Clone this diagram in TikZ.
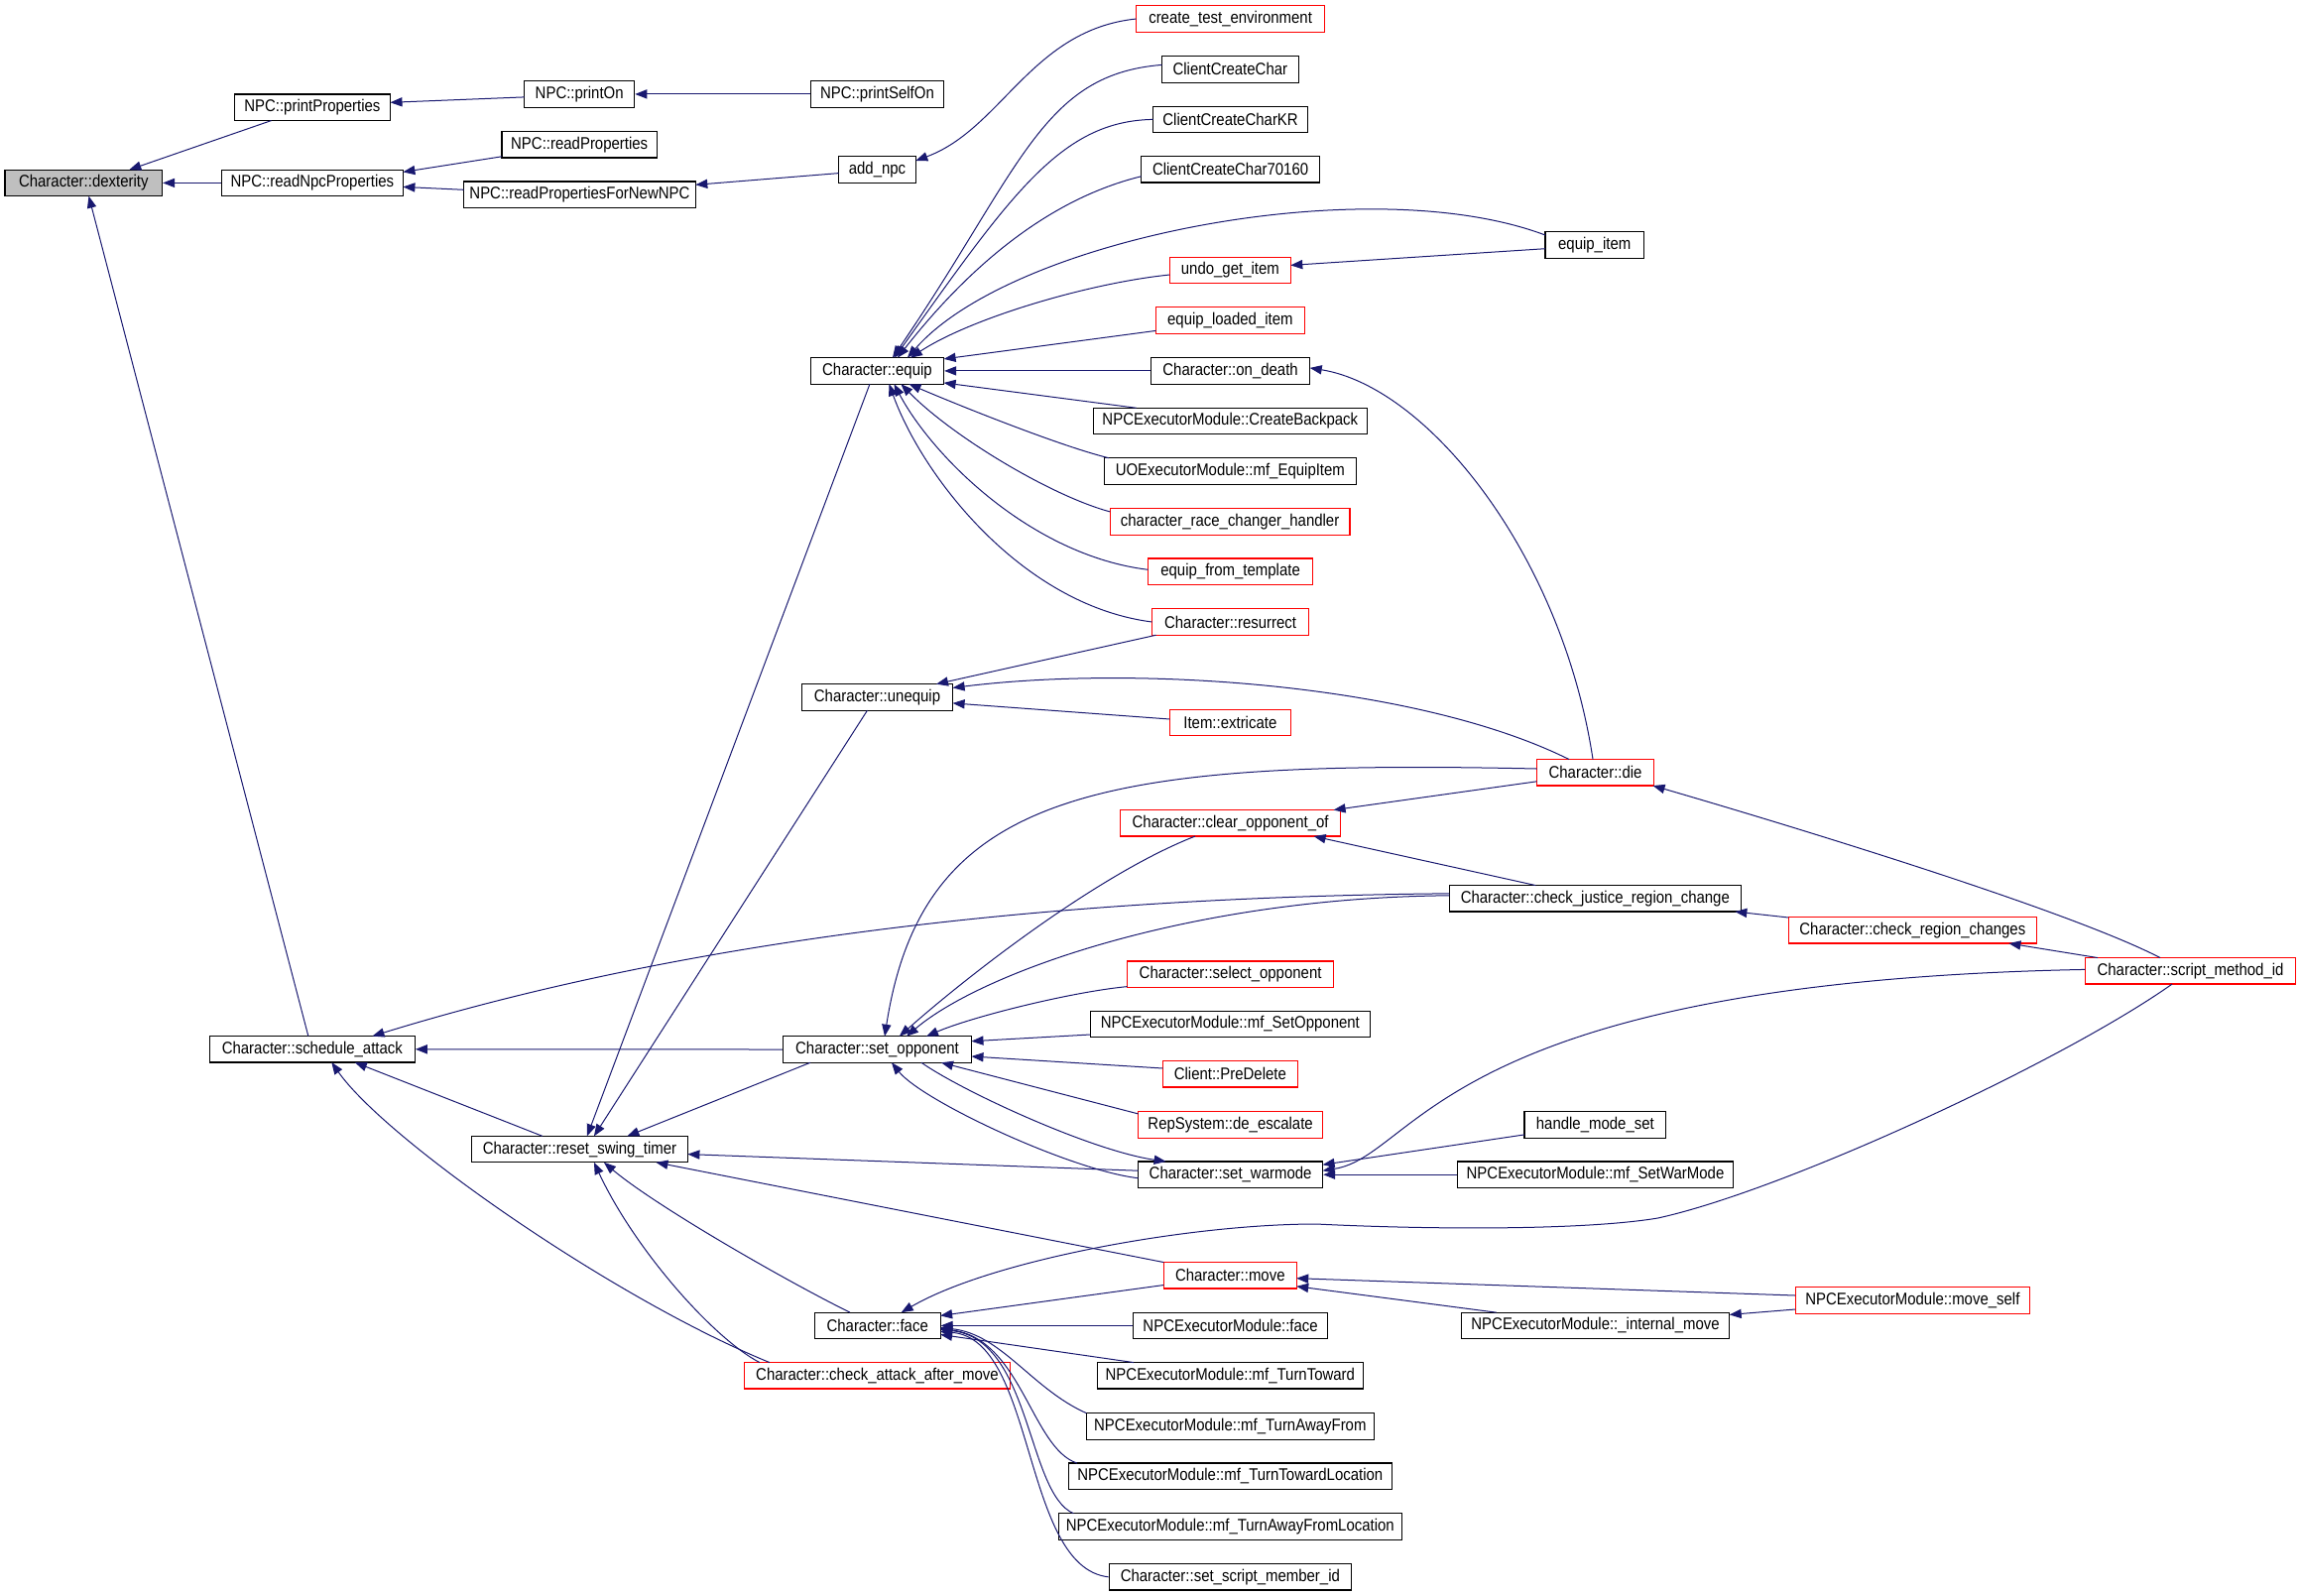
\documentclass[tikz,border=0pt]{standalone}
\usepackage{fontspec}
\setmainfont{Liberation Sans}[FakeStretch=0.88]
\usetikzlibrary{calc,arrows.meta}
\definecolor{edgeblue}{RGB}{25,25,112}
\begin{document}
\begin{tikzpicture}[x=0.5pt,y=-0.5pt,
  box/.style={draw=black,line width=0.6pt,fill=white,minimum height=13.25pt,inner sep=0pt,font=\fontsize{8.5}{10}\selectfont,text=black},
  rbox/.style={box,draw=red},
  gbox/.style={box,fill=black!25},
  ed/.style={draw=edgeblue,line width=0.5pt,{Triangle[length=6pt,width=4.6pt]}-}]
\useasboundingbox[fill=white] (0,0) rectangle (2320,1608);
% nodes
\node[gbox,minimum width=79.3pt] (dex) at (84.3,184.4) {Character::dexterity};
\node[box,minimum width=78.6pt] (pprop) at (314.9,108.3) {NPC::printProperties};
\node[box,minimum width=55.5pt] (pon) at (584.2,94.9) {NPC::printOn};
\node[box,minimum width=78.3pt] (rprop) at (584.2,145.8) {NPC::readProperties};
\node[box,minimum width=91.55pt] (rnpc) at (314.85,184.4) {NPC::readNpcProperties};
\node[box,minimum width=116.85pt] (rnew) at (584.45,196.3) {NPC::readPropertiesForNewNPC};
\node[box,minimum width=67.15pt] (pself) at (884.45,94.9) {NPC::printSelfOn};
\node[box,minimum width=38.8pt] (addnpc) at (884.5,171) {add\_npc};
\node[rbox,minimum width=95pt] (cte) at (1240.6,19) {create\_test\_environment};
\node[box,minimum width=68.85pt] (ccc) at (1240.35,69.9) {ClientCreateChar};
\node[box,minimum width=78.1pt] (cckr) at (1240.6,120.4) {ClientCreateCharKR};
\node[box,minimum width=90pt] (cc70) at (1240.6,170.8) {ClientCreateChar70160};
\node[box,minimum width=49.7pt] (eqitem) at (1607.7,247) {equip\_item};
\node[rbox,minimum width=60.95pt] (undo) at (1240.35,272.4) {undo\_get\_item};
\node[rbox,minimum width=74.85pt] (eqload) at (1240.35,322.9) {equip\_loaded\_item};
\node[box,minimum width=67.15pt] (equip) at (884.45,373.9) {Character::equip};
\node[box,minimum width=80.1pt] (ondeath) at (1240.6,373.9) {Character::on\_death};
\node[box,minimum width=138.05pt] (backpack) at (1240.35,424.5) {NPCExecutorModule::CreateBackpack};
\node[box,minimum width=127.05pt] (mfequip) at (1240.35,475) {UOExecutorModule::mf\_EquipItem};
\node[rbox,minimum width=120.9pt] (racechg) at (1240.1,525.9) {character\_race\_changer\_handler};
\node[rbox,minimum width=83.1pt] (eqtmpl) at (1240.6,576.3) {equip\_from\_template};
\node[rbox,minimum width=79.1pt] (resur) at (1240.6,627) {Character::resurrect};
\node[box,minimum width=76.1pt] (unequip) at (884.5,702.9) {Character::unequip};
\node[rbox,minimum width=60.95pt] (extric) at (1240.35,728.4) {Item::extricate};
\node[rbox,minimum width=59.05pt] (die) at (1608.55,778.8) {Character::die};
\node[rbox,minimum width=110.9pt] (clearopp) at (1240.6,829.8) {Character::clear\_opponent\_of};
\node[box,minimum width=146.95pt] (justice) at (1608.35,905.8) {Character::check\_justice\_region\_change};
\node[rbox,minimum width=125.05pt] (regchg) at (1928.35,937.8) {Character::check\_region\_changes};
\node[rbox,minimum width=106.15pt] (smid) at (2208.55,978.8) {Character::script\_method\_id};
\node[rbox,minimum width=104pt] (selopp) at (1240.6,982.2) {Character::select\_opponent};
\node[box,minimum width=141.05pt] (mfsetopp) at (1240.35,1032.5) {NPCExecutorModule::mf\_SetOpponent};
\node[box,minimum width=95pt] (setopp) at (884.5,1058) {Character::set\_opponent};
\node[box,minimum width=103.45pt] (sched) at (314.85,1057.8) {Character::schedule\_attack};
\node[rbox,minimum width=67.85pt] (predel) at (1240.35,1082.8) {Client::PreDelete};
\node[rbox,minimum width=93pt] (deesc) at (1240.6,1133.9) {RepSystem::de\_escalate};
\node[box,minimum width=71.35pt] (modeset) at (1608.35,1133.9) {handle\_mode\_set};
\node[box,minimum width=108.95pt] (reset) at (584.45,1158.6) {Character::reset\_swing\_timer};
\node[box,minimum width=93pt] (warmode) at (1240.6,1184.2) {Character::set\_warmode};
\node[box,minimum width=139.1pt] (mfwar) at (1608.5,1184.2) {NPCExecutorModule::mf\_SetWarMode};
\node[rbox,minimum width=66.9pt] (move) at (1240.3,1285.8) {Character::move};
\node[rbox,minimum width=118.25pt] (moveself) at (1928.35,1311) {NPCExecutorModule::move\_self};
\node[box,minimum width=63.4pt] (face) at (884.7,1336.4) {Character::face};
\node[box,minimum width=98pt] (npcface) at (1240.6,1336.4) {NPCExecutorModule::face};
\node[box,minimum width=135.15pt] (intmove) at (1608.55,1336.4) {NPCExecutorModule::\_internal\_move};
\node[box,minimum width=134.05pt] (turnto) at (1240.35,1386.8) {NPCExecutorModule::mf\_TurnToward};
\node[rbox,minimum width=133.85pt] (cattack) at (884.45,1386.8) {Character::check\_attack\_after\_move};
\node[box,minimum width=144.95pt] (awayfrom) at (1240.35,1437.9) {NPCExecutorModule::mf\_TurnAwayFrom};
\node[box,minimum width=162.9pt] (turntoloc) at (1240.3,1488.3) {NPCExecutorModule::mf\_TurnTowardLocation};
\node[box,minimum width=172.85pt] (awayloc) at (1240.35,1539) {NPCExecutorModule::mf\_TurnAwayFromLocation};
\node[box,minimum width=122.15pt] (scriptmem) at (1240.35,1589.8) {Character::set\_script\_member\_id};
% edges
\draw[ed] ($(dex)+(46,-13.25)$) -- ($(pprop)+(-41.3,13.25)$);
\draw[ed] (dex.east) -- (rnpc.west);
\draw[ed] ($(dex)+(5.2,13.25)$) -- ($(sched)+(-4,-13.25)$);
\draw[ed] ($(pprop)+(78.6,-5)$) -- ($(pon)+(-55.5,3)$);
\draw[ed] (pon.east) -- (pself.west);
\draw[ed] ($(rnpc)+(91.55,-11)$) -- ($(rprop)+(-78.3,12)$);
\draw[ed] ($(rnpc)+(91.55,4)$) -- ($(rnew)+(-116.85,-5)$);
\draw[ed] ($(rnew)+(116.85,-10)$) -- ($(addnpc)+(-38.8,3.6)$);
\draw[ed] ($(addnpc)+(38.8,-9)$) .. controls (1010,130) and (1040,30) .. ($(cte)+(-95,0)$);
% equip callers
\draw[ed] ($(equip)+(15.5,-13.25)$) .. controls (1030,170) and (1050,75) .. ($(ccc)+(-68.85,-4.5)$);
\draw[ed] ($(equip)+(17.5,-13.25)$) .. controls (1020,195) and (1070,122) .. ($(cckr)+(-78.1,0)$);
\draw[ed] ($(equip)+(20.5,-13.25)$) .. controls (980,265) and (1060,200) .. ($(cc70)+(-90,7)$);
\draw[ed] ($(equip)+(30.5,-13.25)$) .. controls (1020,240) and (1380,170) .. ($(eqitem)+(-49.7,-10)$);
\draw[ed] ($(equip)+(33.5,-13.25)$) .. controls (980,320) and (1100,285) .. ($(undo)+(-60.95,4.6)$);
\draw[ed] ($(undo)+(60.95,-5)$) -- ($(eqitem)+(-49.7,3.7)$);
\draw[ed] ($(equip)+(67.15,-12)$) -- ($(eqload)+(-74.85,10.5)$);
\draw[ed] (equip.east) -- (ondeath.west);
\draw[ed] ($(equip)+(67.15,12)$) -- ($(backpack)+(-94.75,-13.25)$);
\draw[ed] ($(equip)+(32,13.25)$) .. controls (970,410) and (1070,450) .. ($(mfequip)+(-122.35,-13.25)$);
\draw[ed] ($(equip)+(24,13.25)$) .. controls (960,440) and (1060,500) .. ($(racechg)+(-120.9,-10)$);
\draw[ed] ($(equip)+(17,13.25)$) .. controls (940,460) and (1040,560) .. ($(eqtmpl)+(-83.1,-2)$);
\draw[ed] ($(equip)+(12,13.25)$) .. controls (930,480) and (1030,610) .. ($(resur)+(-79.1,0)$);
\draw[ed] ($(reset)+(7.5,-13.25)$) -- ($(equip)+(-7.5,13.25)$);
% unequip
\draw[ed] ($(unequip)+(59.5,-13.25)$) -- ($(resur)+(-75,13.25)$);
\draw[ed] ($(unequip)+(76.1,-9.5)$) .. controls (1150,670) and (1430,690) .. ($(die)+(-26.5,-13.25)$);
\draw[ed] ($(unequip)+(76.1,6)$) -- ($(extric)+(-60.95,-3.4)$);
\draw[ed] ($(reset)+(14.5,-13.25)$) -- ($(unequip)+(-10,13.25)$);
% die
\draw[ed] ($(ondeath)+(80.1,-3)$) .. controls (1440,390) and (1575,560) .. ($(die)+(-2.5,-13.25)$);
\draw[ed] ($(die)+(58,13.25)$) .. controls (1780,825) and (2080,915) .. ($(smid)+(-30.5,-13.25)$);
\draw[ed] ($(clearopp)+(104,-13.25)$) -- ($(die)+(-59.05,9)$);
\draw[ed] ($(setopp)+(7.5,-13.25)$) .. controls (930,800) and (1100,765) .. ($(die)+(-59.05,-3.8)$);
% clear / justice
\draw[ed] ($(setopp)+(22.3,-13.25)$) .. controls (980,980) and (1110,880) .. ($(clearopp)+(-35.6,13.25)$);
\draw[ed] ($(setopp)+(29.5,-13.25)$) .. controls (990,980) and (1200,905) .. ($(justice)+(-146.95,-3)$);
\draw[ed] ($(clearopp)+(84,13.25)$) -- ($(justice)+(-60,-13.25)$);
\draw[ed] ($(sched)+(60.6,-13.25)$) .. controls (650,960) and (1000,905) .. ($(justice)+(-146.95,-5)$);
\draw[ed] ($(justice)+(141,13.25)$) -- ($(regchg)+(-125.05,-12.8)$);
\draw[ed] ($(regchg)+(97,13.25)$) -- ($(smid)+(-93.5,-13.25)$);
% script_method_id
\draw[ed] ($(warmode)+(93,-4)$) .. controls (1430,1165) and (1450,990) .. ($(smid)+(-106.15,-1.4)$);
\draw[ed] ($(face)+(24,-13.25)$) .. controls (1000,1270) and (1200,1234) .. (1327,1234) .. controls (1450,1240) and (1600,1240) .. (1671.5,1228) .. controls (1800,1200) and (2080,1070) .. ($(smid)+(-18.5,13.25)$);
% move / face / reset
\draw[ed] ($(face)+(63.4,-10)$) -- ($(move)+(-66.9,9.7)$);
\draw[ed] ($(reset)+(77,13.25)$) -- ($(move)+(-66.9,-13.25)$);
\draw[ed] ($(reset)+(24.5,13.25)$) .. controls (660,1215) and (790,1290) .. ($(face)+(-27.7,-13.25)$);
\draw[ed] ($(reset)+(14.5,13.25)$) .. controls (640,1260) and (720,1350) .. ($(cattack)+(-118.5,-13.25)$);
\draw[ed] ($(sched)+(19.5,13.25)$) .. controls (390,1150) and (620,1310) .. ($(cattack)+(-108.5,-13.25)$);
\draw[ed] ($(sched)+(43,13.25)$) -- ($(reset)+(-37.5,-13.25)$);
\draw[ed] (sched.east) -- (setopp.west);
\draw[ed] ($(reset)+(48,-13.25)$) -- ($(setopp)+(-67.5,13.25)$);
% set_opponent callers
\draw[ed] ($(setopp)+(49.5,-13.25)$) .. controls (980,1025) and (1080,1000) .. ($(selopp)+(-104,12.4)$);
\draw[ed] ($(setopp)+(95,-8.3)$) -- ($(mfsetopp)+(-141.05,10.5)$);
\draw[ed] ($(setopp)+(95,7)$) -- ($(predel)+(-67.85,-5.8)$);
\draw[ed] ($(setopp)+(64.5,13.25)$) -- ($(deesc)+(-93,-11)$);
\draw[ed] ($(setopp)+(14.5,13.25)$) .. controls (930,1110) and (1080,1180) .. ($(warmode)+(-93,3.5)$);
\draw[ed] ($(warmode)+(-65,-13.25)$) .. controls (1100,1160) and (970,1100) .. ($(setopp)+(44.5,13.25)$);
\draw[ed] ($(reset)+(108.95,5)$) -- ($(warmode)+(-93,-4)$);
\draw[ed] ($(warmode)+(93,-10)$) -- ($(modeset)+(-71.35,10)$);
\draw[ed] (warmode.east) -- (mfwar.west);
\draw[ed] ($(move)+(66.9,2.9)$) -- ($(moveself)+(-118.25,-5)$);
\draw[ed] ($(move)+(66.9,11)$) -- ($(intmove)+(-99.85,-13.25)$);
\draw[ed] ($(intmove)+(135.15,-11)$) -- ($(moveself)+(-118.25,9)$);
% face callers
\draw[ed] (face.east) -- (npcface.west);
\draw[ed] ($(face)+(63.4,9)$) -- ($(turnto)+(-97.35,-13.25)$);
\draw[ed] ($(face)+(63.4,2)$) .. controls (1010,1345) and (1040,1400) .. ($(awayfrom)+(-144.95,-13.25)$);
\draw[ed] ($(face)+(63.4,3)$) .. controls (1030,1350) and (1040,1460) .. ($(turntoloc)+(-154.3,-13.25)$);
\draw[ed] ($(face)+(63.4,4)$) .. controls (1040,1350) and (1035,1505) .. ($(awayloc)+(-158,-13.25)$);
\draw[ed] ($(face)+(63.4,6)$) .. controls (1045,1350) and (1030,1580) .. (scriptmem.west);
\end{tikzpicture}
\end{document}
